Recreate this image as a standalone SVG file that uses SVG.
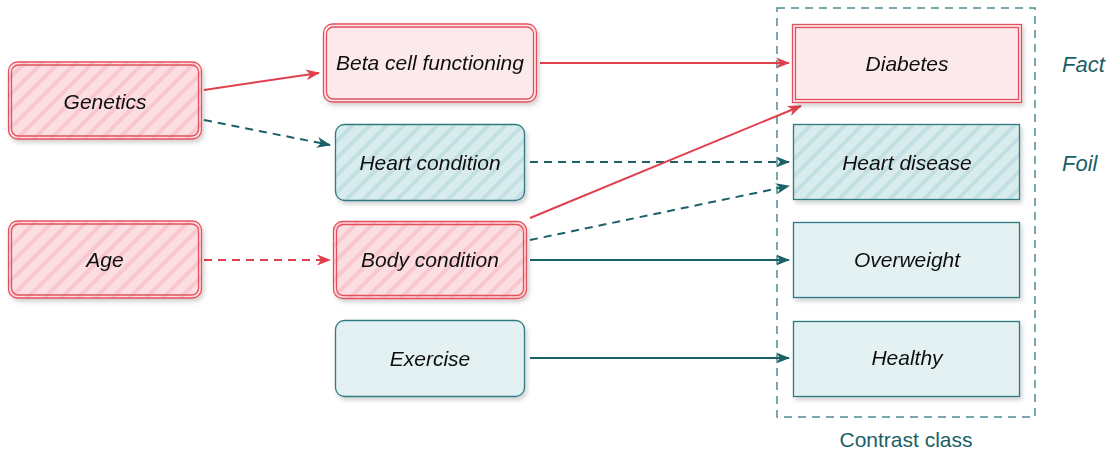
<svg xmlns="http://www.w3.org/2000/svg" width="1112" height="452" viewBox="0 0 1112 452">
<style>
.lbl{font-family:"Liberation Sans",Arial,sans-serif;font-style:italic;font-size:21px;fill:#111;text-anchor:middle;dominant-baseline:central}
.side{font-family:"Liberation Sans",Arial,sans-serif;font-style:italic;font-size:22px;fill:#1b5f66;dominant-baseline:central}
.cap{font-family:"Liberation Sans",Arial,sans-serif;font-size:21px;fill:#1b5f66;text-anchor:middle;dominant-baseline:central}
.redo{fill:none;stroke:#e5505c;stroke-width:1.3}
.redi{stroke:#e5505c;stroke-width:1.3}
.teal{stroke:#2d7a80;stroke-width:1.3}
.er{fill:none;stroke:#e0404e;stroke-width:2}
.et{fill:none;stroke:#1b6168;stroke-width:2}
.dash{stroke-dasharray:8 6}
</style>
<defs>
<pattern id="hr" patternUnits="userSpaceOnUse" width="12" height="12" patternTransform="rotate(45)">
<rect width="12" height="12" fill="#fbdde2"/>
<rect width="4" height="12" fill="#f8c8cf"/>
</pattern>
<pattern id="ht" patternUnits="userSpaceOnUse" width="12" height="12" patternTransform="rotate(45)">
<rect width="12" height="12" fill="#d9eced"/>
<rect width="4" height="12" fill="#c2e0e3"/>
</pattern>
<filter id="sh" x="-10%" y="-10%" width="130%" height="140%">
<feDropShadow dx="2" dy="3" stdDeviation="2" flood-color="#000" flood-opacity="0.18"/>
</filter>
<marker id="ar" viewBox="0 0 14 12" refX="13" refY="6" markerWidth="14" markerHeight="12" markerUnits="userSpaceOnUse" orient="auto" overflow="visible">
<path d="M0,0.5 L14,6 L0,11.5 L4,6 Z" fill="#e0404e"/>
</marker>
<marker id="at" viewBox="0 0 14 12" refX="13" refY="6" markerWidth="14" markerHeight="12" markerUnits="userSpaceOnUse" orient="auto" overflow="visible">
<path d="M0,0.5 L14,6 L0,11.5 L4,6 Z" fill="#1b6168"/>
</marker>
</defs>

<rect id="contrast-box" x="777" y="8" width="258" height="409" fill="none" stroke="#4a8f95" stroke-width="1.5" stroke-dasharray="8 6"/>

<g id="connectors">
<line class="er" x1="204" y1="90" x2="319" y2="73" marker-end="url(#ar)"/>
<line class="et dash" x1="204" y1="120" x2="330" y2="145" marker-end="url(#at)"/>
<line class="er" x1="540" y1="63" x2="789" y2="63" marker-end="url(#ar)"/>
<line class="et dash" x1="530" y1="162" x2="789" y2="162" marker-end="url(#at)"/>
<line class="er" x1="530" y1="218" x2="801" y2="106" marker-end="url(#ar)"/>
<line class="et dash" x1="530" y1="240" x2="789" y2="186" marker-end="url(#at)"/>
<line class="er dash" x1="204" y1="260" x2="330" y2="260" marker-end="url(#ar)"/>
<line class="et" x1="530" y1="260" x2="789" y2="260" marker-end="url(#at)"/>
<line class="et" x1="530" y1="358" x2="789" y2="358" marker-end="url(#at)"/>
</g>

<g id="genetics" filter="url(#sh)">
<rect x="8.5" y="62" width="193" height="77" rx="9" fill="url(#hr)" class="redi"/>
<rect x="11.5" y="65" width="187" height="71" rx="7" class="redo"/>
<text class="lbl" x="105" y="101">Genetics</text>
</g>

<g id="age" filter="url(#sh)">
<rect x="8.5" y="221" width="193" height="77" rx="9" fill="url(#hr)" class="redi"/>
<rect x="11.5" y="224" width="187" height="71" rx="7" class="redo"/>
<text class="lbl" x="105" y="259">Age</text>
</g>

<g id="beta-cell" filter="url(#sh)">
<rect x="323.5" y="24" width="213" height="78" rx="9" fill="#fbe9eb" class="redi"/>
<rect x="326.5" y="27" width="207" height="72" rx="7" class="redo"/>
<text class="lbl" x="430" y="62">Beta cell functioning</text>
</g>

<g id="heart-condition" filter="url(#sh)">
<rect x="335.5" y="124.5" width="189" height="76" rx="9" fill="url(#ht)" class="teal"/>
<text class="lbl" x="430" y="162">Heart condition</text>
</g>

<g id="body-condition" filter="url(#sh)">
<rect x="333.5" y="221.5" width="193" height="77" rx="9" fill="url(#hr)" class="redi"/>
<rect x="336.5" y="224.5" width="187" height="71" rx="7" class="redo"/>
<text class="lbl" x="430" y="259">Body condition</text>
</g>

<g id="exercise" filter="url(#sh)">
<rect x="335.5" y="320.5" width="189" height="76" rx="9" fill="#e4f1f2" class="teal"/>
<text class="lbl" x="430" y="358">Exercise</text>
</g>

<g id="diabetes" filter="url(#sh)">
<rect x="792.5" y="24.5" width="229" height="78" fill="#fbe9eb" class="redi"/>
<rect x="795.5" y="27.5" width="223" height="72" class="redo"/>
<text class="lbl" x="907" y="63">Diabetes</text>
</g>

<g id="heart-disease" filter="url(#sh)">
<rect x="793.5" y="124.5" width="226" height="75" fill="url(#ht)" class="teal"/>
<text class="lbl" x="907" y="162">Heart disease</text>
</g>

<g id="overweight" filter="url(#sh)">
<rect x="793.5" y="222.5" width="226" height="75" fill="#e4f1f2" class="teal"/>
<text class="lbl" x="907" y="259">Overweight</text>
</g>

<g id="healthy" filter="url(#sh)">
<rect x="793.5" y="321.5" width="226" height="75" fill="#e4f1f2" class="teal"/>
<text class="lbl" x="907" y="357">Healthy</text>
</g>

<g id="labels">
<text class="side" x="1062" y="64">Fact</text>
<text class="side" x="1062" y="163">Foil</text>
<text class="cap" x="906" y="439">Contrast class</text>
</g>
</svg>
